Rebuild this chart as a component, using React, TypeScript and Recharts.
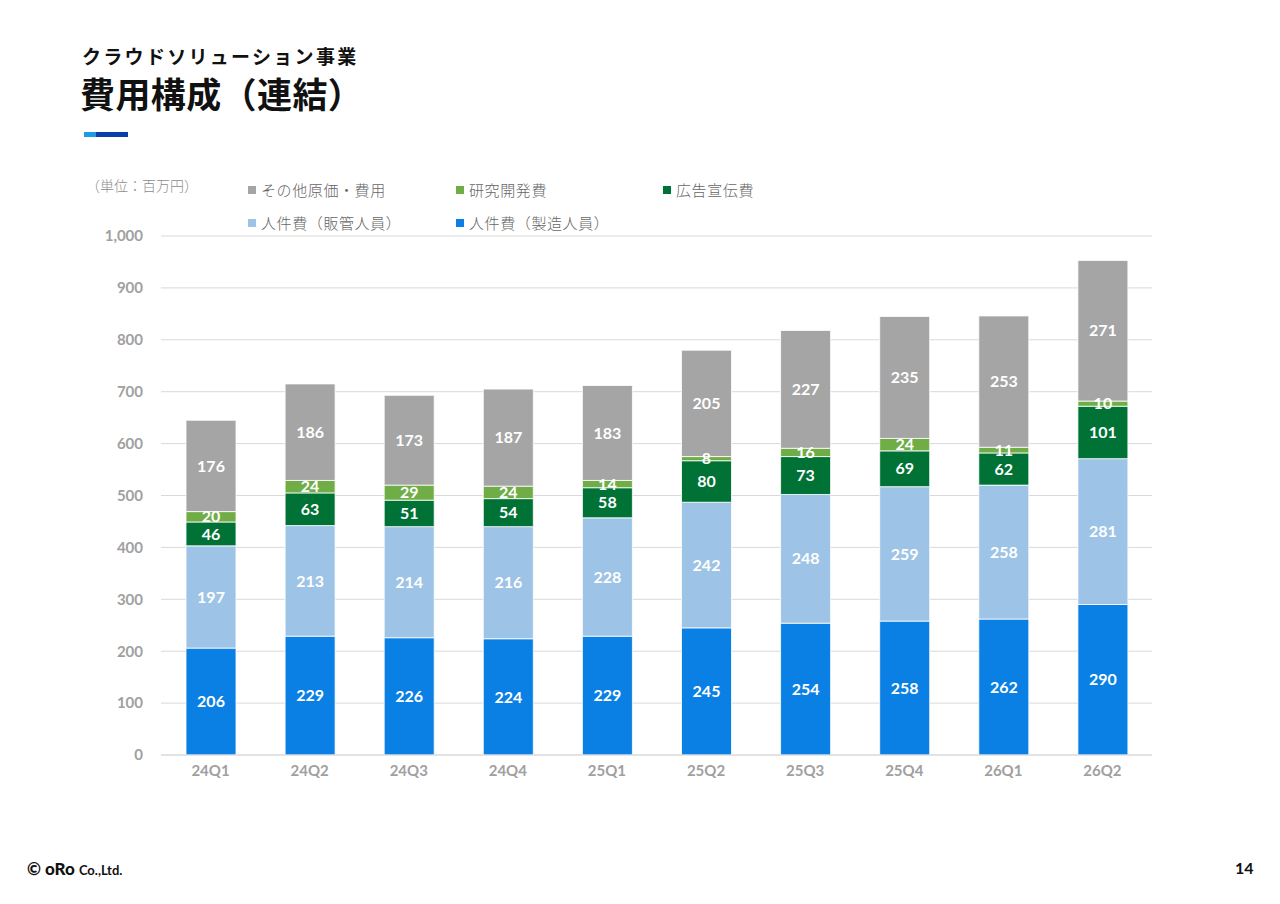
import { BarChart, Bar, XAxis, YAxis, CartesianGrid, LabelList } from 'recharts';

const quarters = ['24Q1', '24Q2', '24Q3', '24Q4', '25Q1', '25Q2', '25Q3', '25Q4', '26Q1', '26Q2'];
const staffProduction = [206, 229, 226, 224, 229, 245, 254, 258, 262, 290];
const staffSales = [197, 213, 214, 216, 228, 242, 248, 259, 258, 281];
const advertising = [46, 63, 51, 54, 58, 80, 73, 69, 62, 101];
const research = [20, 24, 29, 24, 14, 8, 16, 24, 11, 10];
const otherCosts = [176, 186, 173, 187, 183, 205, 227, 235, 253, 271];
const yTicks = [0, 100, 200, 300, 400, 500, 600, 700, 800, 900, 1000];

const data = quarters.map((q, i) => ({
  q,
  production: staffProduction[i],
  sales: staffSales[i],
  ad: advertising[i],
  rd: research[i],
  other: otherCosts[i],
}));

const COLORS = {
  production: '#0A7FE4',
  sales: '#9DC3E6',
  ad: '#007236',
  rd: '#70AD47',
  other: '#A5A5A5',
};

const legendRow1 = [
  { label: 'その他原価・費用', color: COLORS.other, x: 248 },
  { label: '研究開発費', color: COLORS.rd, x: 456 },
  { label: '広告宣伝費', color: COLORS.ad, x: 663 },
];
const legendRow2 = [
  { label: '人件費（販管人員）', color: COLORS.sales, x: 248 },
  { label: '人件費（製造人員）', color: COLORS.production, x: 456 },
];

const numFont = 'Lato, "Noto Sans", sans-serif';
const jpFont = '"Noto Sans CJK JP", "Noto Sans", sans-serif';

const series = [
  { key: 'production', color: COLORS.production },
  { key: 'sales', color: COLORS.sales },
  { key: 'ad', color: COLORS.ad },
  { key: 'rd', color: COLORS.rd },
  { key: 'other', color: COLORS.other },
] as const;

function LegendItem({ label, color, x, y }: { label: string; color: string; x: number; y: number }) {
  return (
    <div style={{ position: 'absolute', left: x, top: y, display: 'flex', alignItems: 'center', whiteSpace: 'nowrap' }}>
      <span style={{ width: 8, height: 8, background: color, display: 'inline-block', marginRight: 5 }} />
      <span style={{ fontSize: 15, fontWeight: 300, letterSpacing: 0.6, color: '#666', fontFamily: jpFont }}>{label}</span>
    </div>
  );
}

export default function App() {
  return (
    <div style={{ position: 'fixed', left: 0, top: 0, width: 1280, height: 904, background: '#fff', fontFamily: jpFont, overflow: 'hidden' }}>
      <div style={{ position: 'absolute', left: 82, top: 42, fontSize: 19, fontWeight: 700, letterSpacing: 2.3, color: '#111' }}>
        クラウドソリューション事業
      </div>
      <div style={{ position: 'absolute', left: 80, top: 67, fontSize: 35, fontWeight: 700, letterSpacing: 0.4, color: '#111' }}>
        費用構成（連結）
      </div>
      <div style={{ position: 'absolute', left: 84, top: 132, width: 12, height: 5, background: '#1E9BE8' }} />
      <div style={{ position: 'absolute', left: 96, top: 132, width: 32, height: 5, background: '#0B3EA8' }} />

      <div style={{ position: 'absolute', left: 86, top: 175, fontSize: 14, fontWeight: 300, color: '#8c8c8c' }}>（単位：百万円）</div>
      {legendRow1.map((l) => (
        <LegendItem key={l.label} {...l} y={179} />
      ))}
      {legendRow2.map((l) => (
        <LegendItem key={l.label} {...l} y={212} />
      ))}

      <div style={{ position: 'absolute', left: 0, top: 0 }}>
        <BarChart width={1280} height={820} data={data} margin={{ top: 236, right: 128, bottom: 25, left: 101 }}>
          <CartesianGrid vertical={false} stroke="#D9D9D9" />
          <XAxis
            dataKey="q"
            axisLine={{ stroke: '#D9D9D9' }}
            tickLine={false}
            tickSize={0}
            tickMargin={10}
            height={40}
            tick={{ fill: '#A0A0A0', fontSize: 15, fontWeight: 700, fontFamily: numFont }}
          />
          <YAxis
            domain={[0, 1000]}
            ticks={yTicks}
            width={60}
            axisLine={false}
            tickLine={false}
            tickSize={0}
            tickMargin={18}
            tickFormatter={(v: number) => v.toLocaleString('en-US')}
            tick={{ fill: '#A0A0A0', fontSize: 15, fontWeight: 700, fontFamily: numFont }}
          />
          {series.map((s) => (
            <Bar key={s.key} dataKey={s.key} stackId="a" fill={s.color} barSize={50} stroke="#fff" strokeWidth={0.8} isAnimationActive={false}>
              <LabelList dataKey={s.key} position="center" fill="#fff" fontSize={16} fontWeight={700} fontFamily={numFont} />
            </Bar>
          ))}
        </BarChart>
      </div>

      <div style={{ position: 'absolute', left: 27, top: 858, fontSize: 17, fontWeight: 900, color: '#111', fontFamily: numFont, whiteSpace: 'nowrap' }}>
        © oRo <span style={{ fontSize: 13, fontWeight: 700 }}>Co.,Ltd.</span>
      </div>
      <div style={{ position: 'absolute', left: 1235, top: 858, fontSize: 16, fontWeight: 700, color: '#111', fontFamily: numFont }}>14</div>
    </div>
  );
}
